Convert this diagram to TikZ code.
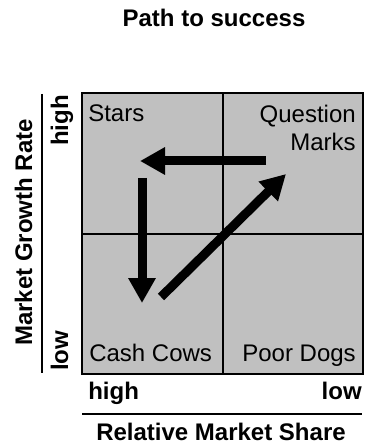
\documentclass[tikz,border=0pt]{standalone}
\usepackage{fontspec}
\setmainfont{Liberation Sans}
\usepackage{xcolor}
\usepackage{tikz}
\usetikzlibrary{arrows.meta, positioning}
\definecolor{quadgray}{RGB}{192,192,192}

\begin{document}
\begin{tikzpicture}[
    x=0.75pt, y=-0.75pt,
    >={Triangle[length=18.75pt, width=19.5pt]},
    quad/.style={draw, fill=quadgray, line width=1.5pt, minimum width=105.4pt, minimum height=105.4pt, inner sep=0pt, outer sep=0pt},
    qlabel/.style={font=\fontsize{18pt}{21.6pt}\selectfont, inner sep=0pt},
    axlabel/.style={font=\fontsize{18pt}{21.6pt}\selectfont\bfseries, inner sep=0pt},
    axline/.style={line width=1.2pt},
    bigarr/.style={->, line width=6.75pt},
]
\useasboundingbox (0,0) rectangle (365,445);

% Title
\node[axlabel, anchor=base] (title) at (214,27) {Path to success};

% The four quadrants
\node[quad, anchor=north west] (stars) at (82,93) {};
\node[quad, right=0pt of stars] (qmarks) {};
\node[quad, below=0pt of stars] (cows) {};
\node[quad, right=0pt of cows] (dogs) {};

\node[qlabel, anchor=base west] (starsT) at (88,122) {Stars};
\node[qlabel, anchor=north east, align=right] (qmarksT) at (356,104.5) {Question\\Marks};
\node[qlabel, anchor=base west] (cowsT) at (89,361) {Cash Cows};
\node[qlabel, anchor=base east] (dogsT) at (356,361) {Poor Dogs};

% Path arrows
\coordinate (qmStart) at (266,161);
\coordinate (starsEnd) at (140,161);
\coordinate (starsStart) at (142,178);
\coordinate (cowsEnd) at (142,303);
\coordinate (cowsStart) at (161,297);
\coordinate (qmEnd) at (286,174);

\draw[bigarr] (qmStart) -- (starsEnd);
\draw[bigarr] (starsStart) -- (cowsEnd);
\draw[bigarr] (cowsStart) -- (qmEnd);

% Vertical axis
\coordinate (yTop) at (42,94);
\coordinate (yBot) at (42,373);
\draw[axline] (yTop) -- (yBot);
\node[axlabel, rotate=90, anchor=base] (growth) at (32,232.5) {Market Growth Rate};
\node[axlabel, rotate=90, anchor=base east] (yHigh) at (68,95) {high};
\node[axlabel, rotate=90, anchor=base west] (yLow) at (68,371) {low};

% Horizontal axis
\node[axlabel, anchor=base west] (xHigh) at (88,399) {high};
\node[axlabel, anchor=base east] (xLow) at (362,399) {low};
\coordinate (xLeft) at (82,414);
\coordinate (xRight) at (362,414);
\draw[axline] (xLeft) -- (xRight);
\node[axlabel, anchor=base] (share) at (221,440) {Relative Market Share};

\end{tikzpicture}
\end{document}
